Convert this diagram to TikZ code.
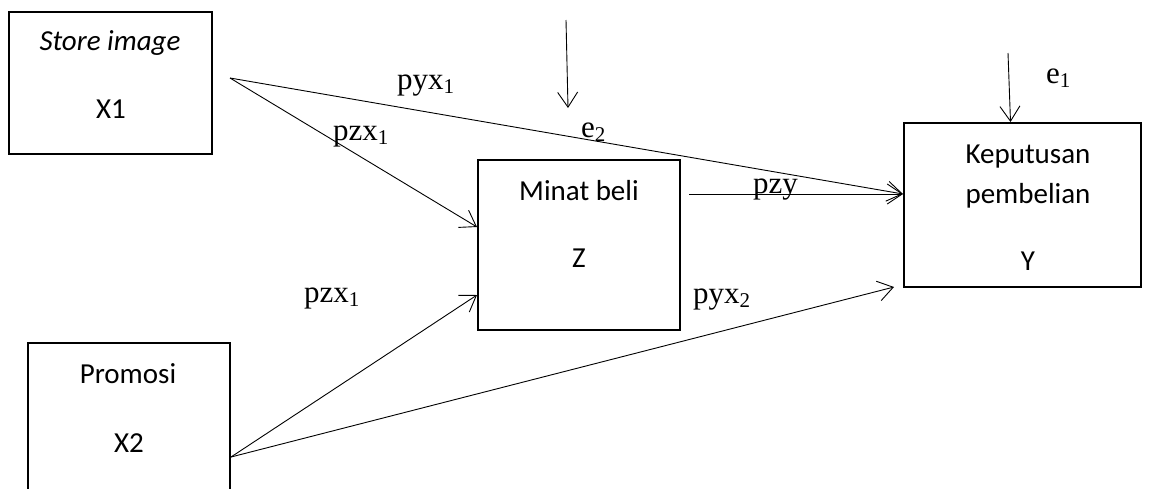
\documentclass[tikz,border=0pt]{standalone}
\usepackage{fontspec}
\setmainfont{Carlito}
\newfontfamily\tnr{Liberation Serif}
\usetikzlibrary{arrows.meta}
\newcommand\subx[1]{\raisebox{-4pt}{\fontsize{21}{21}\selectfont #1}}
\begin{document}
\begin{tikzpicture}[x=1pt,y=-1pt,
  box/.style={draw, line width=2pt, inner sep=0pt},
  boxtext/.style={anchor=base, inner sep=0pt, font=\fontsize{29}{30}\selectfont},
  lab/.style={anchor=base west, inner sep=0pt, font=\tnr\fontsize{31}{32}\selectfont},
  conn/.style={line width=0.9pt, -{Straight Barb[length=15pt,width=20pt,line width=0.9pt]}},
  ln/.style={line width=0.9pt}]
\clip (0,0) rectangle (1155,488);
% boxes
\node[box, minimum width=203pt, minimum height=142pt] (X1) at (110.5,83) {};
\node[box, minimum width=202pt, minimum height=160pt] (X2) at (129,423) {};
\node[box, minimum width=202pt, minimum height=170pt] (Z) at (579,245) {};
\node[box, minimum width=237pt, minimum height=164pt] (Y) at (1022.5,205) {};
% box texts
\node[boxtext] (t1a) at (110,50) {\itshape Store image};
\node[boxtext] (t1b) at (111,118) {X1};
\node[boxtext] (t2a) at (128,383) {Promosi};
\node[boxtext] (t2b) at (129,452) {X2};
\node[boxtext] (tza) at (579,200) {Minat beli};
\node[boxtext] (tzb) at (579,267) {Z};
\node[boxtext] (tya) at (1028,163) {Keputusan};
\node[boxtext] (tyb) at (1028,203) {pembelian};
\node[boxtext] (tyc) at (1028,270) {Y};
% free-end coordinates
\coordinate (x1o) at (230,78);
\coordinate (x2o) at (231,457);
\coordinate (e2s) at (566,20);
\coordinate (e2t) at (568,108);
\coordinate (e1s) at (1008,53);
% connectors
\draw[conn] (x1o) -- ([yshift=18pt]Z.west);
\draw[conn] (x1o) -- ([yshift=11pt]Y.west);
\draw[conn] (x2o) -- ([yshift=-50pt]Z.west);
\draw[conn] (x2o) -- ([xshift=-9pt,yshift=1pt]Y.south west);
\draw[conn] ([xshift=8pt,yshift=51pt]Z.east) -- ([yshift=11pt]Y.west);
\draw[conn] (e2s) -- (e2t);
\draw[conn] (e1s) -- ([xshift=-12pt]Y.north);
% labels
\node[lab] (lpyx1) at (397,89) {pyx\subx{1}};
\node[lab] (lpzx1a) at (333,140) {pzx\subx{1}};
\node[lab] (le2) at (581,137) {e\subx{2}};
\node[lab] (le1) at (1046,83) {e\subx{1}};
\node[lab] (lpzy) at (753,193) {pzy};
\node[lab] (lpzx1b) at (304,302) {pzx\subx{1}};
\node[lab] (lpyx2) at (693,303) {pyx\subx{2}};
\end{tikzpicture}
\end{document}
